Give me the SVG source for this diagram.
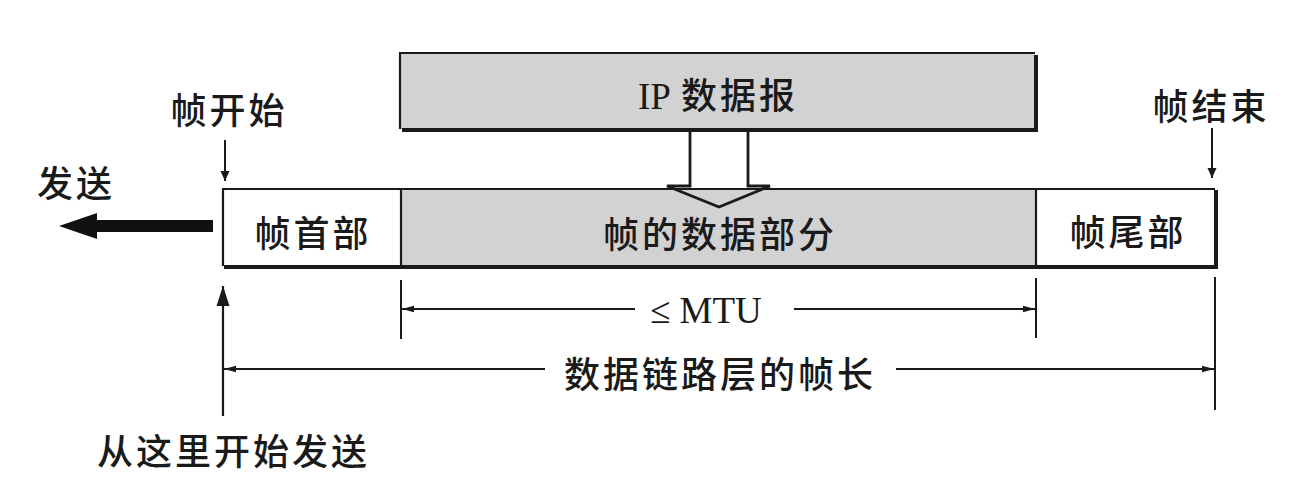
<svg xmlns="http://www.w3.org/2000/svg" width="1290" height="490" viewBox="0 0 1290 490">
  <style>
    .cjk { font-family: "Noto Sans CJK SC", "Noto Sans", sans-serif; font-size: 36px; font-weight: 500; fill: #1a1a1a; letter-spacing: 3px; }
    .lat { font-family: "Liberation Serif", "Noto Sans CJK SC", serif; font-size: 37px; fill: #1a1a1a; }
    .ln { stroke: #1a1a1a; stroke-width: 2.2; fill: none; }
    .thin { stroke: #1a1a1a; stroke-width: 2; fill: none; }
    .gray { fill: #d2d2d2; }
  </style>
  <defs>
    <marker id="dimEnd" markerWidth="12" markerHeight="8" refX="12" refY="4" orient="auto" markerUnits="userSpaceOnUse">
      <path d="M0,0.8 L12,4 L0,7.2 z" fill="#1a1a1a"/>
    </marker>
    <marker id="tickArrow" markerWidth="10" markerHeight="12" refX="10" refY="5" orient="auto" markerUnits="userSpaceOnUse">
      <path d="M0,0.5 L10,5 L0,9.5 z" fill="#1a1a1a"/>
    </marker>
    <marker id="upArrow" markerWidth="20" markerHeight="14" refX="20" refY="7" orient="auto" markerUnits="userSpaceOnUse">
      <path d="M0,0.5 L20,7 L0,13.5 z" fill="#1a1a1a"/>
    </marker>
  </defs>

  <!-- IP datagram box with drop shadow on right/bottom -->
  <g id="ip-datagram">
    <rect x="400" y="53" width="635" height="76" class="gray"/>
    <path d="M400,129 L400,53 L1035,53" class="ln"/>
    <path d="M402,130 L1036,130 L1036,55" stroke="#1a1a1a" stroke-width="4" fill="none"/>
    <text x="718" y="109" text-anchor="middle"><tspan class="lat">IP</tspan><tspan class="cjk" dx="10">数据报</tspan></text>
  </g>

  <!-- frame: header | data | trailer -->
  <g id="frame-header">
    <rect x="223" y="189" width="177" height="77" fill="#ffffff"/>
    <text x="313" y="247" class="cjk" text-anchor="middle">帧首部</text>
  </g>
  <g id="frame-data">
    <rect x="401" y="189" width="635" height="77" class="gray"/>
    <text x="720" y="248" class="cjk" text-anchor="middle">帧的数据部分</text>
  </g>
  <g id="frame-trailer">
    <rect x="1036" y="189" width="179" height="77" fill="#ffffff"/>
    <text x="1128" y="246" class="cjk" text-anchor="middle">帧尾部</text>
  </g>
  <g id="frame-outline">
    <path d="M223,266 L223,189 L1215,189" class="ln"/>
    <path d="M224,267 L1216,267 L1216,190" stroke="#1a1a1a" stroke-width="4" fill="none"/>
    <line x1="401" y1="189" x2="401" y2="267" class="ln"/>
    <line x1="1036" y1="189" x2="1036" y2="267" class="ln"/>
  </g>

  <!-- labels -->
  <g id="label-frame-start">
    <text x="229" y="124" class="cjk" text-anchor="middle">帧开始</text>
  </g>
  <g id="label-frame-end">
    <text x="1211" y="120" class="cjk" text-anchor="middle">帧结束</text>
  </g>
  <g id="label-send">
    <text x="37" y="197" class="cjk">发送</text>
  </g>
  <g id="label-send-from-here">
    <text x="97" y="465" class="cjk">从这里开始发送</text>
  </g>

  <g id="connectors">
    <!-- hollow arrow: IP datagram into frame data -->
    <path d="M690,131 L690,186 L667,186 L719,207 L770,186 L748,186 L748,131" stroke="#1a1a1a" stroke-width="2.8" fill="none" stroke-linejoin="miter"/>

    <!-- thick send arrow -->
    <path d="M213,220 L97,220 L97,213 L59,226 L97,239 L97,232 L213,232 z" fill="#111111"/>

    <!-- frame start / end pointers -->
    <line x1="225" y1="140" x2="225" y2="181" class="thin" marker-end="url(#tickArrow)"/>
    <line x1="1212" y1="128" x2="1212" y2="178" class="thin" marker-end="url(#tickArrow)"/>

    <!-- send-from-here arrow -->
    <line x1="223" y1="416" x2="223" y2="286" class="ln" marker-end="url(#upArrow)"/>

    <!-- MTU dimension -->
    <line x1="401" y1="280" x2="401" y2="339" class="thin"/>
    <line x1="1036" y1="278" x2="1036" y2="338" class="thin"/>
    <line x1="635" y1="309" x2="402" y2="309" class="thin" marker-end="url(#dimEnd)"/>
    <line x1="794" y1="309" x2="1035" y2="309" class="thin" marker-end="url(#dimEnd)"/>
    <text x="650" y="323" class="lat">≤ MTU</text>

    <!-- frame length dimension -->
    <line x1="1215" y1="277" x2="1215" y2="410" class="thin"/>
    <line x1="545" y1="369" x2="224" y2="369" class="thin" marker-end="url(#dimEnd)"/>
    <line x1="896" y1="369" x2="1214" y2="369" class="thin" marker-end="url(#dimEnd)"/>
    <text x="720" y="388" class="cjk" text-anchor="middle">数据链路层的帧长</text>
  </g>
</svg>
